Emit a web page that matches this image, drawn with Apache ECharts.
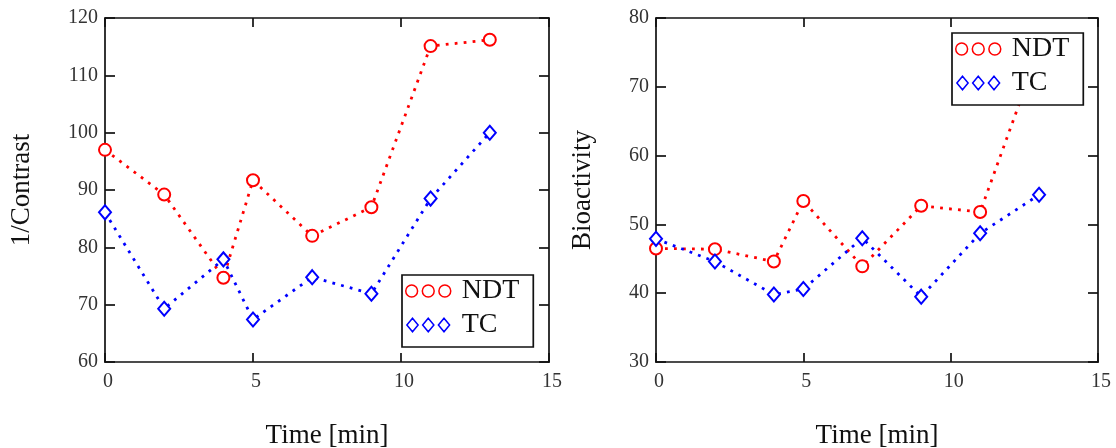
<!DOCTYPE html>
<html>
<head>
<meta charset="utf-8">
<script src="https://cdn.jsdelivr.net/npm/echarts@6/dist/echarts.min.js"></script>
<style>
  html, body { margin: 0; padding: 0; background: #fff; }
  #chart { width: 1116px; height: 448px; }
</style>
</head>
<body>
<div id="chart"></div>
<script>
// Sampling times (minutes)
const time = [0, 2, 4, 5, 7, 9, 11, 13];

// Left panel: 1/Contrast
const contrastNDT = [97, 89.2, 74.7, 91.7, 82.0, 87.0, 115.1, 116.2];
const contrastTC  = [86.1, 69.3, 77.9, 67.4, 74.8, 71.9, 88.5, 100.0];

// Right panel: Bioactivity
const bioNDT = [46.5, 46.4, 44.6, 53.4, 43.9, 52.7, 51.8, 75.5];
const bioTC  = [47.9, 44.6, 39.8, 40.6, 48.0, 39.5, 48.7, 54.3];

const seriesNames = ['NDT', 'TC'];
const axisTitles = { x: 'Time [min]', left: '1/Contrast', right: 'Bioactivity' };

const FONT = 'Liberation Serif';
const RED = '#ff0000';
const BLUE = '#0000ff';

const pairs = (xs, ys) => xs.map((x, i) => [x, ys[i]]);

const axisLine = { show: true, onZero: false, lineStyle: { color: '#111', width: 1.7 } };
const tickLabel = { color: '#333', fontFamily: FONT, fontSize: 20 };

function xAxes(gridIndex) {
  return [
    {
      gridIndex, type: 'value', min: 0, max: 15, interval: 5, position: 'bottom',
      axisLine, splitLine: { show: false },
      axisTick: { show: true, inside: true, length: 9, lineStyle: { color: '#111', width: 1.7 } },
      axisLabel: Object.assign({ margin: 10, padding: [0, 0, 0, 6] }, tickLabel),
      name: axisTitles.x, nameLocation: 'middle', nameGap: 60,
      nameTextStyle: { color: '#111', fontFamily: FONT, fontSize: 27 }
    },
    {
      gridIndex, type: 'value', min: 0, max: 15, interval: 5, position: 'top',
      axisLine, splitLine: { show: false },
      axisTick: { show: true, inside: true, length: 9, lineStyle: { color: '#111', width: 1.7 } },
      axisLabel: { show: false }
    }
  ];
}

function yAxes(gridIndex, min, max, title, gap) {
  return [
    {
      gridIndex, type: 'value', min, max, interval: 10, position: 'left',
      axisLine, splitLine: { show: false },
      axisTick: { show: true, inside: true, length: 10, lineStyle: { color: '#111', width: 1.7 } },
      axisLabel: Object.assign({ margin: 7 }, tickLabel),
      name: title, nameLocation: 'middle', nameGap: gap, nameRotate: 90,
      nameTextStyle: { color: '#111', fontFamily: FONT, fontSize: 27 }
    },
    {
      gridIndex, type: 'value', min, max, interval: 10, position: 'right',
      axisLine, splitLine: { show: false },
      axisTick: { show: true, inside: true, length: 10, lineStyle: { color: '#111', width: 1.7 } },
      axisLabel: { show: false }
    }
  ];
}

function lineSeries(name, data, color, symbol, size, xIdx, yIdx) {
  return {
    name, type: 'line', data, xAxisIndex: xIdx, yAxisIndex: yIdx,
    symbol, symbolSize: size, showAllSymbol: true,
    itemStyle: { color, borderColor: color, borderWidth: 1.5 },
    lineStyle: { color, width: 2.8, type: [2.8, 6.2] },
    emphasis: { disabled: true },
    animation: false, z: 3
  };
}

// Three outline circles / diamonds as legend keys
const ICON_CIRCLES = 'path://M1,6a5,5 0 1,0 10,0a5,5 0 1,0 -10,0M15,6a5,5 0 1,0 10,0a5,5 0 1,0 -10,0M29,6a5,5 0 1,0 10,0a5,5 0 1,0 -10,0';
const ICON_DIAMONDS = 'path://M6,0L11,6L6,12L1,6ZM20,0L25,6L20,12L15,6ZM34,0L39,6L34,12L29,6Z';

function legendAt(left, top) {
  return {
    left, top, orient: 'vertical', itemWidth: 45, itemHeight: 13.5, itemGap: 6,
    padding: [2, 14, 8, 3], backgroundColor: '#fff', borderColor: '#111', borderWidth: 1.7,
    borderRadius: 0, selectedMode: false, z: 10,
    textStyle: { color: '#111', fontFamily: FONT, fontSize: 28, lineHeight: 28, padding: [0, 0, 0, 6] },
    data: [
      { name: seriesNames[0], icon: ICON_CIRCLES, itemStyle: { color: 'rgba(0,0,0,0)', borderColor: RED, borderWidth: 1.5 } },
      { name: seriesNames[1], icon: ICON_DIAMONDS, itemStyle: { color: 'rgba(0,0,0,0)', borderColor: BLUE, borderWidth: 1.5 } }
    ]
  };
}

const chart = echarts.init(document.getElementById('chart'), null, { renderer: 'canvas' });
chart.setOption({
  backgroundColor: '#fff',
  animation: false,
  grid: [
    { left: 105, top: 18, width: 444, height: 344, outerBoundsMode: 'none', containLabel: false },
    { left: 656, top: 18, width: 442, height: 344, outerBoundsMode: 'none', containLabel: false }
  ],
  xAxis: [...xAxes(0), ...xAxes(1)],
  yAxis: [...yAxes(0, 60, 120, axisTitles.left, 70), ...yAxes(1, 30, 80, axisTitles.right, 60)],
  legend: [legendAt(402, 275), legendAt(952, 33)],
  series: [
    lineSeries(seriesNames[0], pairs(time, contrastNDT), RED, 'emptyCircle', 12, 0, 0),
    lineSeries(seriesNames[1], pairs(time, contrastTC), BLUE, 'emptyDiamond', [12, 14], 0, 0),
    lineSeries(seriesNames[0], pairs(time, bioNDT), RED, 'emptyCircle', 12, 2, 2),
    lineSeries(seriesNames[1], pairs(time, bioTC), BLUE, 'emptyDiamond', [12, 14], 2, 2)
  ]
});
</script>
</body>
</html>
